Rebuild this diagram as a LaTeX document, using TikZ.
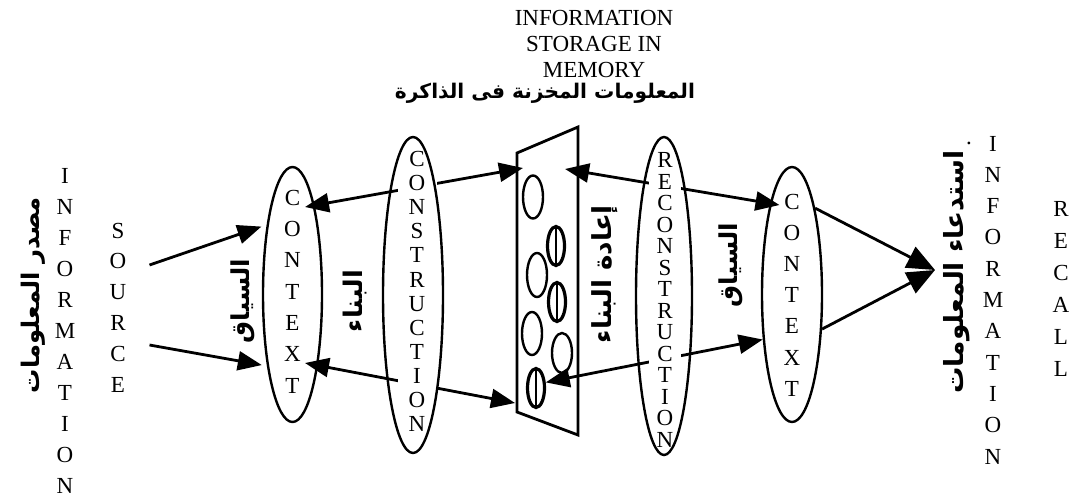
\documentclass[tikz,border=0pt]{standalone}
\usepackage{graphicx}
\usepackage{fontspec}
\setmainfont{Liberation Serif}
\newfontfamily\arabicfont[Script=Arabic]{DejaVu Sans}
\TeXXeTstate=1
\usetikzlibrary{arrows.meta,shapes.geometric}
\pgfdeclarelayer{paper}
\pgfdeclarelayer{lines}
\pgfsetlayers{paper,lines,main}

% bold Arabic label scaled to a given length
\newcommand\artext[2]{\resizebox{#1}{!}{\arabicfont\bfseries #2}}

\tikzset{
  x=1pt, y=-1pt,
  ring/.style={draw, ellipse, line width=2.4pt, inner sep=0pt},
  stack/.style={align=center, inner sep=0pt, font=\fontsize{23}{#1}\selectfont},
  whitebox/.style={fill=white, inner xsep=4pt, inner ysep=2pt},
  cell/.style={draw, ellipse, line width=2.4pt, inner sep=0pt, minimum width=20pt, minimum height=43pt},
  barcell/.style={draw, ellipse, line width=3.2pt, inner sep=0pt, minimum width=17pt, minimum height=39pt,
    path picture={\draw[line width=2.2pt] (path picture bounding box.north) -- (path picture bounding box.south);}},
  wire/.style={line width=2.8pt, line cap=butt},
  hd/.tip={Triangle[length=24pt,width=19pt]},
  bighd/.tip={Triangle[length=28pt,width=23pt]},
  arlabel/.style={rotate=90, inner sep=0pt},
}

\begin{document}
\begin{tikzpicture}
\begin{pgfonlayer}{paper}
  \fill[white] (0,0) rectangle (1070,498);
\end{pgfonlayer}
\useasboundingbox (0,0) rectangle (1070,498);

% heading
\node[stack=25.7pt] (title) at (594,44) {INFORMATION\\STORAGE IN\\MEMORY};
\node[inner sep=0pt] (titleAr) at (545,93) {\artext{300pt}{\beginR المعلومات المخزنة فى الذاكرة\endR}};

% information source
\node[arlabel] (srcAr) at (33,295) {\artext{196pt}{\beginR مصدر المعلومات\endR}};
\node[stack=31pt] (info) at (65,330.5) {I\\N\\F\\O\\R\\M\\A\\T\\I\\O\\N};
\node[stack=30.8pt, inner sep=3pt] (src) at (118,307.5) {S\\O\\U\\R\\C\\E};

% context and construction
\node[arlabel] (ctxLar) at (243,301) {\artext{84pt}{\beginR السياق\endR}};
\node[stack=31.3pt, whitebox] (ctxLt) at (292.5,291.5) {C\\O\\N\\T\\E\\X\\T};
\node[ring, minimum width=59pt, minimum height=255pt] (ctxL) at (292.5,294.5) {};
\node[arlabel] (consAr) at (355,301) {\artext{62pt}{\beginR البناء\endR}};
\node[stack=24.1pt, whitebox, minimum width=39pt] (const) at (417,291.5) {C\\O\\N\\S\\T\\R\\U\\C\\T\\I\\O\\N};
\node[ring, minimum width=60pt, minimum height=316pt] (cons) at (413,295) {};

% memory store
\coordinate (memTL) at (517,153);
\coordinate (memTR) at (578,127);
\coordinate (memBR) at (578,435);
\coordinate (memBL) at (517,412);
\coordinate (memUL) at (523,168);
\coordinate (memUR) at (565,169);
\coordinate (memLL) at (515,403);
\draw[line width=2.8pt, line join=miter] (memTL) -- (memTR) -- (memBR) -- (memBL) -- cycle;
\node[cell] (m1) at (533,197) {};
\node[barcell] (m2) at (556,246) {};
\node[cell, minimum height=44pt] (m3) at (537,275) {};
\node[barcell] (m4) at (557,302) {};
\node[cell] (m5) at (532,333.5) {};
\node[cell, minimum height=40pt] (m6) at (562,353) {};
\node[barcell] (m7) at (536,388) {};

% reconstruction and context
\node[arlabel] (reconAr) at (605,274) {\artext{138pt}{\beginR إعادة البناء\endR}};
\node[stack=21.5pt, whitebox, minimum width=32pt] (recont) at (665,300) {R\\E\\C\\O\\N\\S\\T\\R\\U\\C\\T\\I\\O\\N};
\node[ring, minimum width=56pt, minimum height=318pt] (recon) at (664,296) {};
\node[arlabel] (ctxRar) at (731,265) {\artext{84pt}{\beginR السياق\endR}};
\node[stack=31.2pt, whitebox] (ctxRt) at (792,295) {C\\O\\N\\T\\E\\X\\T};
\node[ring, minimum width=60pt, minimum height=255pt] (ctxR) at (792,294.5) {};

% information recall
\node[arlabel] (recallAr) at (957,272) {\artext{243pt}{\beginR استدعاء المعلومات\endR}};
\node[font=\fontsize{23}{23}\selectfont, inner sep=0pt] (dot) at (969,143) {.};
\node[stack=31.3pt] (info2) at (993,300) {I\\N\\F\\O\\R\\M\\A\\T\\I\\O\\N};
\node[stack=32pt] (recall) at (1061,288.5) {R\\E\\C\\A\\L\\L};
\coordinate (rc) at (935,270);

% connectors
\begin{pgfonlayer}{lines}
  \draw[wire,-hd] ([xshift=20pt,yshift=42.5pt]src.east) -- ([xshift=-5pt]ctxL.111);
  \draw[wire,-hd] ([xshift=20pt,yshift=-37.5pt]src.east) -- ([xshift=-5pt]ctxL.250);
  \draw[wire,hd-hd] ([yshift=84.5pt]ctxLt.east) -- (memUL);
  \draw[wire,hd-hd] ([yshift=-71.5pt]ctxLt.east) -- (memLL);
  \draw[wire,hd-hd] (memUR) -- ([yshift=90pt]ctxRt.west);
  \draw[wire,hd-hd] (m7.30) -- (ctxR.237);
  \draw[wire,-bighd] (ctxR.75) -- (rc);
  \draw[wire,-bighd] (ctxR.-49) -- (rc);
\end{pgfonlayer}
\end{tikzpicture}
\end{document}
